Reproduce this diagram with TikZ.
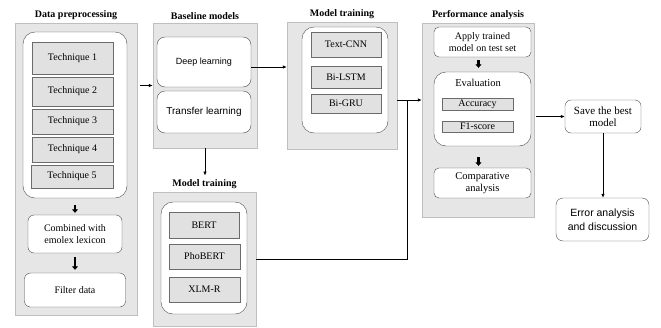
\documentclass[tikz,border=0pt]{standalone}
\usepackage{fontspec}
\setmainfont{Liberation Serif}
\setsansfont{Liberation Sans}
\usetikzlibrary{arrows.meta}

\definecolor{panelgray}{HTML}{E6E6E6}
\definecolor{panelline}{HTML}{BFBFBF}
\definecolor{boxgray}{HTML}{E1E1E1}
\definecolor{boxline}{HTML}{6B6B6B}
\definecolor{roundline}{HTML}{4D4D4D}

\tikzset{
  base/.style={font=\fontsize{10}{12.5}\selectfont, inner sep=0pt, align=center},
  wh/.style 2 args={minimum width=#1pt, minimum height=#2pt},
  panel/.style={base, draw=panelline, fill=panelgray},
  group/.style={base, draw=roundline, fill=white, rounded corners=12pt},
  rbox/.style={base, draw=roundline, fill=white, rounded corners=6pt},
  tech/.style={base, draw=boxline, fill=boxgray},
  head/.style={font=\bfseries\fontsize{10}{12}\selectfont},
  arr/.style={-{Latex[length=4pt,width=3.5pt]}, line width=0.8pt},
  fat/.style={-{Triangle[length=3.5pt,width=6pt]}, line width=2.2pt},
}

\begin{document}
\begin{tikzpicture}[x=1pt, y=-1pt]
  \useasboundingbox (0,0) rectangle (661,327);

  % data preprocessing
  \node (pdata) [panel, wh={122}{292},
                 label={[head,name=hdata]above:Data preprocessing}] at (76,169) {};
  \node (gtech) [group, wh={104}{166}] at (75,115) {};
  \node (t1) [tech, wh={81}{32}] at (72.5,58) {Technique 1};
  \node (t2) [tech, wh={81}{29}] at (72.5,91.5) {Technique 2};
  \node (t3) [tech, wh={81}{25}] at (72.5,121.5) {Technique 3};
  \node (t4) [tech, wh={81}{25}] at (72.5,149.5) {Technique 4};
  \node (t5) [tech, wh={82}{23}] at (72,176.5) {Technique 5};
  \node (comb) [rbox, wh={94}{38}] at (75,234) {Combined with\\emolex lexicon};
  \node (filt) [rbox, wh={101}{34}] at (75,290) {Filter data};

  \draw [fat, shorten <=7pt, shorten >=2pt] (gtech.south) -- (comb.north);
  \draw [fat, shorten <=4pt, shorten >=3pt] (comb.south) -- (filt.north);

  % baseline models
  \node (pbase) [panel, wh={104}{125},
                 label={[head,name=hbase]above:Baseline models}] at (205,85.5) {};
  \node (dl) [rbox, rounded corners=8pt, wh={94}{50},
              font=\sffamily\fontsize{9}{11}\selectfont] at (204,62) {Deep learning};
  \node (tl) [rbox, rounded corners=8pt, wh={94}{42},
              font=\sffamily\fontsize{10}{12}\selectfont] at (204,112) {Transfer learning};

  % model training, deep learning
  \node (ptrain) [panel, wh={110}{127},
                  label={[head,name=htrain]above:Model training}] at (342,85.5) {};
  \node (gtrain) [group, wh={86}{106}] at (345,80) {};
  \node (cnn) [tech, wh={70}{25}] at (346,44.5) {Text-CNN};
  \node (lstm) [tech, wh={70}{22}] at (346,77) {Bi-LSTM};
  \node (gru) [tech, wh={70}{19}] at (346,103.5) {Bi-GRU};

  % model training, transfer learning
  \node (ptrans) [panel, wh={103}{134},
                  label={[head,name=htrans]above:Model training}] at (204.5,259) {};
  \node (gtrans) [group, wh={86}{112}] at (204,258) {};
  \node (bert) [tech, wh={70}{26}] at (204,225) {BERT};
  \node (pho) [tech, wh={71}{25}] at (204.5,256.5) {PhoBERT};
  \node (xlm) [tech, wh={71}{25}] at (204.5,289.5) {XLM-R};

  % performance analysis
  \node (pperf) [panel, wh={112}{194},
                 label={[head,name=hperf]above:Performance analysis}] at (478,120) {};
  \node (apply) [rbox, rounded corners=5pt, wh={97}{30}] at (482.5,42)
        {Apply trained\\model on test set};
  \node (geval) [group, wh={97}{74}] at (482.5,109) {};
  \node (evl) [base, font=\fontsize{10.5}{12}\selectfont] at (478,83) {Evaluation};
  \node (acc) [tech, wh={71}{12}] at (477.5,104) {Accuracy};
  \node (f1) [tech, wh={71}{11}] at (477.5,126.5) {F1-score};
  \node (comp) [rbox, rounded corners=5pt, wh={97}{30},
                font=\fontsize{10.5}{12.5}\selectfont] at (482.5,183) {Comparative\\analysis};

  \draw [fat, shorten <=3pt, shorten >=4pt]
        ([xshift=-4pt]apply.south) -- ([xshift=-4pt]geval.north);
  \draw [fat, shorten <=11pt, shorten >=2pt]
        ([xshift=-4pt]geval.south) -- ([xshift=-4pt]comp.north);

  \node (save) [rbox, wh={76}{33}, font=\fontsize{11}{12}\selectfont] at (603,116.5)
        {Save the best\\model};
  \node (err) [rbox, rounded corners=7pt, wh={93}{43},
               font=\sffamily\fontsize{10.5}{14}\selectfont] at (602.5,219.5)
        {Error analysis\\and discussion};

  % connectors
  \coordinate (jn) at (407,100);
  \draw [arr, shorten <=3pt] (pdata.east |- pbase) -- (pbase.west);
  \draw [arr] ([yshift=-5pt]dl.east) coordinate (d0) -- (d0 -| ptrain.west);
  \draw [arr] (pbase.south) -- (pbase.south |- htrans.north);
  \draw [arr] (ptrain.east |- jn) -- (pperf.west |- jn);
  \draw (ptrans.east) -| (jn);
  \draw [arr, shorten <=2pt] (pperf.east |- save) -- (save.west);
  \draw [arr] (save.south) -- (save.south |- err.north);
\end{tikzpicture}
\end{document}
